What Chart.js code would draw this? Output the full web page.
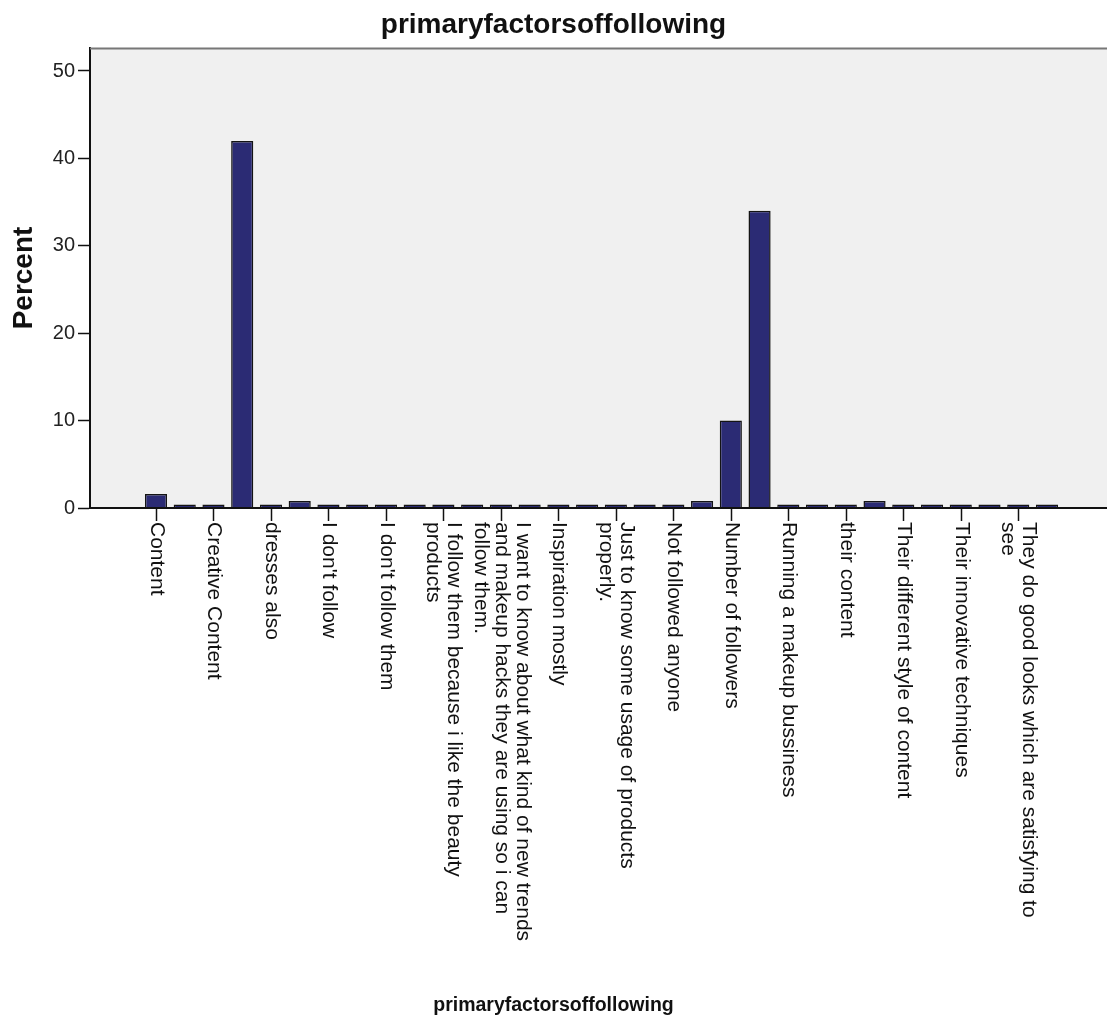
<!DOCTYPE html>
<html>
<head>
<meta charset="utf-8">
<script src="https://cdn.jsdelivr.net/npm/chart.js@4.4.1/dist/chart.umd.min.js"></script>
<style>
html,body{margin:0;padding:0;background:#fff}
#wrap{position:relative;width:1107px;height:1018px}
</style>
</head>
<body>
<div id="wrap"><canvas id="c"></canvas></div>
<script>
// data (percent of respondents), 32 categories, every other one labelled
const CATEGORY_IDX=[0,1,2,3,4,5,6,7,8,9,10,11,12,13,14,15,16,17,18,19,20,21,22,23,24,25,26,27,28,29,30,31];
const PERCENT=[1.6,0.4,0.4,42,0.4,0.8,0.4,0.4,0.4,0.4,0.4,0.4,0.4,0.4,0.4,0.4,0.4,0.4,0.4,0.8,10,34,0.4,0.4,0.4,0.8,0.4,0.4,0.4,0.4,0.4,0.4];
const LABELS=[
  ['Content'],[],['Creative Content'],[],['dresses also'],[],["I don't follow"],[],["I don't follow them"],[],
  ['I follow them because i like the beauty','products'],[],
  ['I want to know about what kind of new trends','and makeup hacks they are using so i can','follow them.'],[],
  ['Inspiration mostly'],[],['Just to know some usage of products','properly.'],[],['Not followed anyone'],[],
  ['Number of followers'],[],['Running a makeup bussiness'],[],['their content'],[],
  ['Their different style of content'],[],['Their innovative techniques'],[],
  ['They do good looks which are satisfying to','see'],[]
];
const Y_TICKS=[0,10,20,30,40,50];
const TITLE='primaryfactorsoffollowing';
const X_TITLE='primaryfactorsoffollowing';
const Y_TITLE='Percent';

const FONT='"Liberation Sans", Arial, sans-serif';

const spssDecor={
  id:'spssDecor',
  beforeDraw(chart){
    const {ctx,chartArea:a}=chart;
    ctx.save();ctx.fillStyle='#F0F0F0';
    ctx.fillRect(a.left,a.top,a.right-a.left,a.bottom-a.top);
    ctx.restore();
  },
  afterDraw(chart){
    const {ctx,chartArea:a}=chart;
    const xs=chart.scales.x;
    ctx.save();
    // top frame line
    ctx.strokeStyle='#777';ctx.lineWidth=2;
    ctx.beginPath();ctx.moveTo(a.left,a.top+0.5);ctx.lineTo(a.right,a.top+0.5);ctx.stroke();
    // x axis line
    ctx.strokeStyle='#111';ctx.lineWidth=2;
    ctx.beginPath();ctx.moveTo(a.left,a.bottom);ctx.lineTo(a.right,a.bottom);ctx.stroke();
    // ticks + rotated labels (read top to bottom)
    ctx.fillStyle='#111';ctx.font='21px '+FONT;ctx.textBaseline='middle';ctx.textAlign='left';
    const lh=21;
    CATEGORY_IDX.forEach(i=>{
      const lines=LABELS[i];
      if(!lines.length)return;
      const px=Math.round(xs.getPixelForValue(i))+0.5;
      ctx.strokeStyle='#111';ctx.lineWidth=1.5;
      ctx.beginPath();ctx.moveTo(px,a.bottom);ctx.lineTo(px,a.bottom+13);ctx.stroke();
      ctx.save();
      ctx.translate(px,a.bottom+14);
      ctx.rotate(Math.PI/2);
      lines.forEach((t,k)=>{ctx.fillText(t,0,(k-(lines.length-1)/2)*lh)});
      ctx.restore();
    });
    // titles
    ctx.textAlign='center';ctx.textBaseline='alphabetic';
    ctx.font='bold 28px '+FONT;
    ctx.fillText(TITLE,chart.width/2,33);
    ctx.font='bold 19.5px '+FONT;
    ctx.fillText(X_TITLE,chart.width/2,1011);
    ctx.save();
    ctx.translate(32,278);ctx.rotate(-Math.PI/2);
    ctx.font='bold 28px '+FONT;
    ctx.fillText(Y_TITLE,0,0);
    ctx.restore();
    ctx.restore();
  }
};

new Chart(document.getElementById('c'),{
  type:'bar',
  data:{datasets:[{
    data:CATEGORY_IDX.map((x,i)=>({x,y:PERCENT[i]})),
    backgroundColor:'#2B2B74',borderColor:'#141414',borderWidth:1.5,borderSkipped:'bottom',
    barPercentage:0.77,categoryPercentage:1
  }]},
  options:{
    responsive:true,maintainAspectRatio:false,animation:false,
    layout:{padding:{top:48,right:0,bottom:0,left:0}},
    plugins:{legend:{display:false},tooltip:{enabled:false}},
    scales:{
      x:{type:'linear',offset:false,min:-2.296,max:33.088,
        afterFit:s=>{s.height=510},
        ticks:{display:false},grid:{display:false,offset:false},border:{display:false}},
      y:{min:0,max:52.63,
        afterFit:s=>{s.width=90},
        afterBuildTicks:s=>{s.ticks=Y_TICKS.map(v=>({value:v}))},
        ticks:{color:'#222',font:{family:FONT,size:20},padding:3},
        grid:{drawOnChartArea:false,drawTicks:true,tickLength:12,color:'#111',tickWidth:1.5},
        border:{display:true,color:'#111',width:2}}
    }
  },
  plugins:[spssDecor]
});
</script>
</body>
</html>
